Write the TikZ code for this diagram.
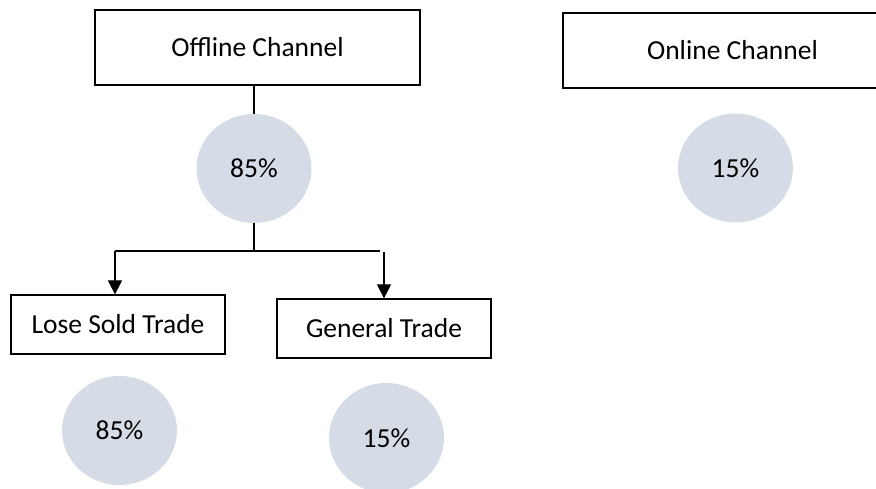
\documentclass[tikz,border=0pt]{standalone}
\usepackage{fontspec}
\setmainfont{Carlito}
\usetikzlibrary{arrows.meta,shapes.geometric}
\definecolor{circfill}{HTML}{D6DCE5}
\begin{document}
\begin{tikzpicture}[x=1pt,y=-1pt,
  txt/.style={font=\fontsize{27.5}{31}\selectfont, text=black},
  chanbox/.style={draw=black, line width=2.6pt, fill=white, inner sep=0pt, txt},
  tradebox/.style={draw=black, line width=1.2pt, fill=white, inner sep=0pt, txt},
  pct/.style={shape=ellipse, fill=circfill, draw=none, inner sep=0pt, txt},
  conn/.style={draw=black, line width=1.2pt},
  arr/.style={conn, -{Triangle[width=14pt,length=14pt]}}
]
\useasboundingbox (0,0) rectangle (876,489);
\clip (0,0) rectangle (876,489);
% top boxes
\node[chanbox, minimum width=325pt, minimum height=75pt] (off) at (257.5,47.5) {Offline Channel};
\node[chanbox, minimum width=339pt, minimum height=75pt] (on) at (732.5,50.5) {Online Channel};
% circles
\node[pct, minimum width=115pt, minimum height=109pt] (c1) at (254,168.5) {85\%};
\node[pct, minimum width=115pt, minimum height=109pt] (c2) at (735.5,168) {15\%};
% trade boxes
\node[tradebox, minimum width=214pt, minimum height=59pt] (lst) at (118,324.5) {Lose Sold Trade};
\node[tradebox, minimum width=214pt, minimum height=59pt] (gt) at (384,328.5) {General Trade};
% lower circles
\node[pct, minimum width=115pt, minimum height=109pt] (c3) at (119.5,430.5) {85\%};
\node[pct, minimum width=115pt, minimum height=110pt] (c4) at (386.5,438) {15\%};
% connectors
\coordinate (hl) at (115,251);
\coordinate (hr) at (380,251);
\coordinate (ar) at (384,252);
\coordinate (j) at (c1.south |- hl);
\draw[conn] (off.south -| c1.north) -- (c1.north);
\draw[conn] (c1.south) -- (j);
\draw[conn] (hl) -- (hr);
\draw[arr] (hl) -- (lst.north -| hl);
\draw[arr] (ar) -- (gt.north -| ar);
\end{tikzpicture}
\end{document}
